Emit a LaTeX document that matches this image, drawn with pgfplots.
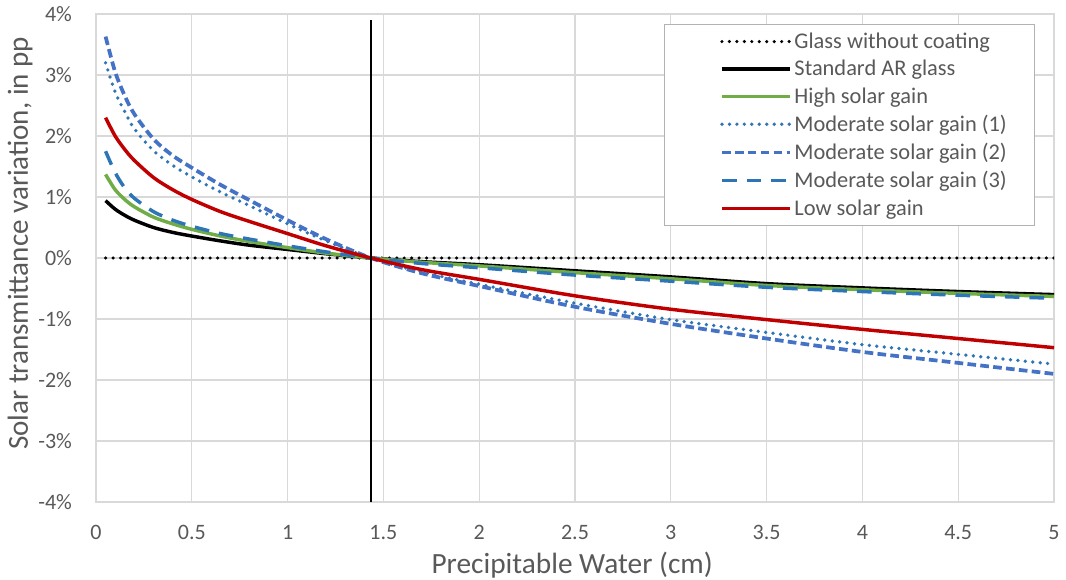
\documentclass[border=0pt]{standalone}
\usepackage{pgfplots}
\pgfplotsset{compat=1.18}
\usepackage{fontspec}
\setmainfont{Carlito}
\definecolor{txtgray}{RGB}{89,89,89}
\definecolor{gridgray}{RGB}{217,217,217}
\definecolor{xlgreen}{RGB}{112,173,71}
\definecolor{xlblue}{RGB}{68,114,196}
\definecolor{xlblueb}{RGB}{46,117,182}
\definecolor{xlred}{RGB}{192,0,0}

\pgfplotstableread{
x     none  std    high   mod1   mod2   mod3   low
0.05  0     0.94   1.37   3.20   3.63   1.75   2.30
0.1   0     0.80   1.12   2.72   3.05   1.40   2.00
0.15  0     0.70   0.96   2.40   2.66   1.15   1.78
0.2   0     0.62   0.84   2.12   2.36   0.98   1.60
0.3   0     0.50   0.67   1.76   1.95   0.76   1.32
0.4   0     0.42   0.56   1.52   1.68   0.62   1.12
0.5   0     0.36   0.47   1.33   1.48   0.52   0.96
0.65  0     0.28   0.36   1.08   1.20   0.40   0.76
0.8   0     0.21   0.27   0.86   0.95   0.31   0.60
1.0   0     0.14   0.17   0.56   0.62   0.20   0.40
1.2   0     0.07   0.08   0.28   0.31   0.10   0.20
1.435 0     0      0      0      0      0      0
1.7   0    -0.06  -0.07  -0.23  -0.25  -0.09  -0.19
2.0   0    -0.11  -0.13  -0.43  -0.46  -0.16  -0.35
2.5   0    -0.21  -0.24  -0.74  -0.80  -0.28  -0.62
3.0   0    -0.31  -0.34  -1.01  -1.08  -0.38  -0.84
3.5   0    -0.42  -0.45  -1.22  -1.32  -0.48  -1.01
4.0   0    -0.49  -0.52  -1.42  -1.54  -0.55  -1.17
4.5   0    -0.55  -0.58  -1.58  -1.72  -0.61  -1.32
5.0   0    -0.60  -0.63  -1.74  -1.90  -0.66  -1.47
}\datatable

\begin{document}
\begin{tikzpicture}
\begin{axis}[
  scale only axis,
  width=718.5pt, height=366pt,
  xmin=0, xmax=5, ymin=-4, ymax=4,
  xtick={0,0.5,1,1.5,2,2.5,3,3.5,4,4.5,5},
  xticklabels={0,0.5,1,1.5,2,2.5,3,3.5,4,4.5,5},
  ytick={-4,-3,-2,-1,0,1,2,3,4},
  yticklabels={-4\%,-3\%,-2\%,-1\%,0\%,1\%,2\%,3\%,4\%},
  grid=major,
  major grid style={draw=gridgray, line width=0.8pt},
  axis line style={draw=gridgray, line width=0.8pt},
  major tick length=0pt,
  tick label style={font=\fontsize{16.5}{19}\selectfont, text=txtgray},
  xticklabel style={yshift=-14pt},
  yticklabel style={xshift=-14.5pt},
  xlabel={Precipitable Water (cm)},
  ylabel={Solar transmittance variation, in pp},
  every axis x label/.style={at={(axis description cs:0.497,-0.129)}, anchor=center,
     font=\fontsize{22}{26}\selectfont, text=txtgray},
  every axis y label/.style={at={(axis description cs:-0.0793,0.53)}, anchor=center, rotate=90,
     font=\fontsize{21.8}{26}\selectfont, text=txtgray},
  legend cell align=left,
  legend style={at={(axis description cs:0.9805,0.979)}, anchor=north east,
    draw=gray!60, line width=0.8pt, fill=white,
    font=\fontsize{16.8}{19}\selectfont, text=txtgray,
    inner xsep=19pt, inner ysep=4pt, row sep=3.4pt},
  legend image code/.code={\path[draw=none,fill=none] (-24pt,0pt) -- (0pt,0pt); \draw[#1] (0pt,0pt) -- (51pt,0pt);},
]
\addplot[black, line width=2.6pt, line cap=round, dash pattern=on 0pt off 5.6pt] table[x=x,y=none]{\datatable};
\addlegendentry{Glass without coating}
\addplot[black, line width=2.6pt, smooth] table[x=x,y=std]{\datatable};
\addlegendentry{Standard AR glass}
\addplot[xlgreen, line width=2.6pt, smooth] table[x=x,y=high]{\datatable};
\addlegendentry{High solar gain}
\addplot[xlblueb, line width=2.8pt, line cap=round, dash pattern=on 0pt off 5.6pt, smooth] table[x=x,y=mod1]{\datatable};
\addlegendentry{Moderate solar gain (1)}
\addplot[xlblue, line width=2.8pt, dash pattern=on 6.5pt off 3.2pt, smooth] table[x=x,y=mod2]{\datatable};
\addlegendentry{Moderate solar gain (2)}
\addplot[xlblueb, line width=2.6pt, dash pattern=on 11pt off 7.5pt, smooth] table[x=x,y=mod3]{\datatable};
\addlegendentry{Moderate solar gain (3)}
\addplot[xlred, line width=2.6pt, smooth] table[x=x,y=low]{\datatable};
\addlegendentry{Low solar gain}
\addplot[black, line width=1.6pt, forget plot] coordinates {(1.435,-4) (1.435,3.9)};
\end{axis}
\pgfresetboundingbox
\path[use as bounding box] ([xshift=-72pt,yshift=-58.5pt]current axis.south west) rectangle ([xshift=9pt,yshift=10.5pt]current axis.north east);
\end{tikzpicture}
\end{document}
